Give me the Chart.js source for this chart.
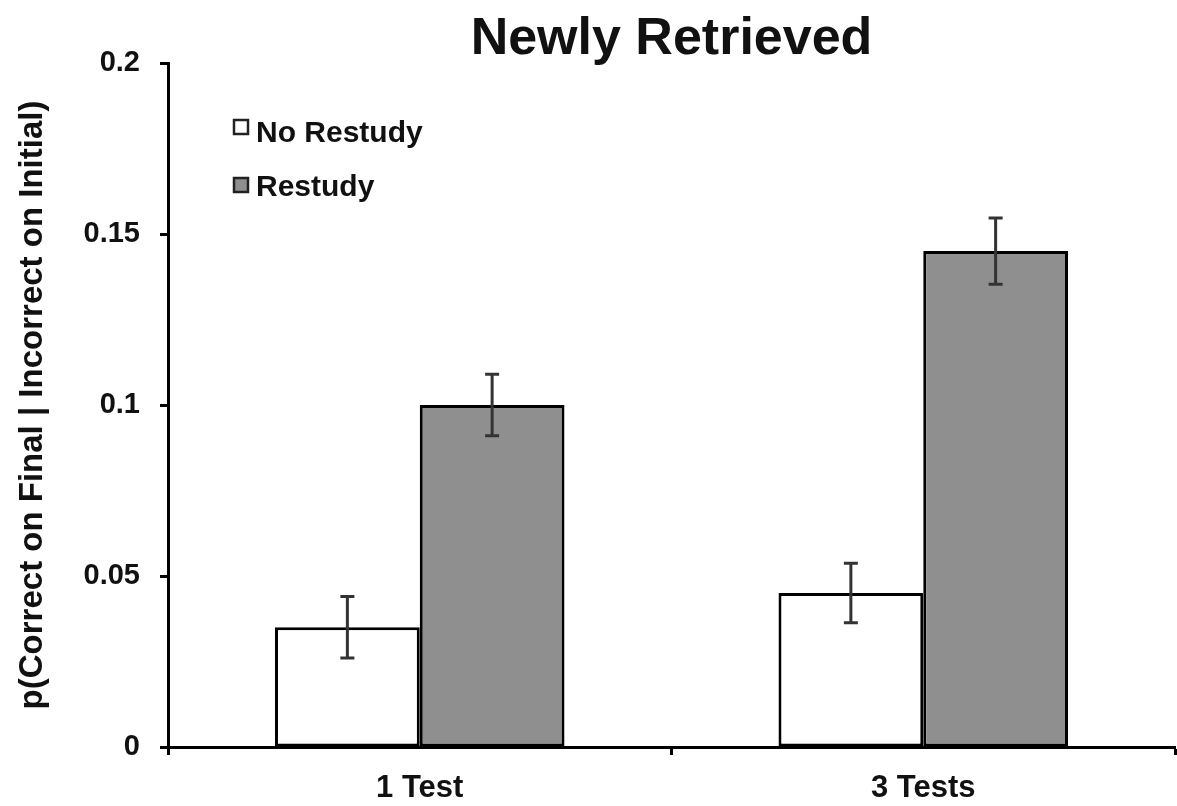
<!DOCTYPE html>
<html>
<head>
<meta charset="utf-8">
<script src="https://cdn.jsdelivr.net/npm/chart.js@4/dist/chart.umd.min.js"></script>
<style>
  html, body { margin: 0; padding: 0; background: #fff; }
  #wrap { width: 1177px; height: 806px; position: relative; }
</style>
</head>
<body>
<div id="wrap"><canvas id="c" width="1177" height="806"></canvas></div>
<script>
const chartTitle = 'Newly Retrieved';
const yAxisTitle = 'p(Correct on Final | Incorrect on Initial)';
const categories = ['1 Test', '3 Tests'];
const seriesLabels = ['No Restudy', 'Restudy'];
const noRestudy = [0.035, 0.045];
const restudy = [0.100, 0.145];
const noRestudyErr = [0.009, 0.0087];
const restudyErr = [0.009, 0.0097];
const yTickValues = [0, 0.05, 0.1, 0.15, 0.2];
const yTickLabels = ['0', '0.05', '0.1', '0.15', '0.2'];

const FONT = '"Liberation Sans", Arial, Helvetica, sans-serif';

const errorBarPlugin = {
  id: 'errorBars',
  afterDatasetsDraw(chart) {
    const ctx = chart.ctx;
    const y = chart.scales.y;
    ctx.save();
    ctx.strokeStyle = '#333';
    ctx.lineWidth = 3;
    chart.data.datasets.forEach((ds, i) => {
      const meta = chart.getDatasetMeta(i);
      meta.data.forEach((bar, j) => {
        const v = ds.data[j], e = ds.errors[j];
        const x = bar.x;
        const yHi = y.getPixelForValue(v + e);
        const yLo = y.getPixelForValue(v - e);
        ctx.beginPath();
        ctx.moveTo(x, yHi); ctx.lineTo(x, yLo);
        ctx.moveTo(x - 7, yHi); ctx.lineTo(x + 7, yHi);
        ctx.moveTo(x - 7, yLo); ctx.lineTo(x + 7, yLo);
        ctx.stroke();
      });
    });
    ctx.restore();
  }
};

const legendPlugin = {
  id: 'insideLegend',
  afterDraw(chart) {
    const ctx = chart.ctx;
    const boxTops = [120, 178];
    const baselines = [142, 196];
    ctx.save();
    chart.data.datasets.forEach((ds, i) => {
      ctx.fillStyle = ds.backgroundColor;
      ctx.fillRect(234, boxTops[i], 14, 14);
      ctx.strokeStyle = '#222';
      ctx.lineWidth = 2.5;
      ctx.strokeRect(234, boxTops[i], 14, 14);
      ctx.fillStyle = '#111';
      ctx.font = 'bold 30px ' + FONT;
      ctx.textAlign = 'left';
      ctx.textBaseline = 'alphabetic';
      ctx.fillText(ds.label, 256, baselines[i]);
    });
    ctx.restore();
  }
};

new Chart(document.getElementById('c'), {
  type: 'bar',
  data: {
    labels: categories,
    datasets: [
      {
        label: seriesLabels[0],
        data: noRestudy,
        errors: noRestudyErr,
        backgroundColor: '#ffffff',
        borderColor: '#000000',
        borderWidth: 3,
        borderSkipped: false,
        categoryPercentage: 0.575,
        barPercentage: 1.0
      },
      {
        label: seriesLabels[1],
        data: restudy,
        errors: restudyErr,
        backgroundColor: '#8f8f8f',
        borderColor: '#000000',
        borderWidth: 3,
        borderSkipped: false,
        categoryPercentage: 0.575,
        barPercentage: 1.0
      }
    ]
  },
  options: {
    responsive: false,
    animation: false,
    layout: { padding: { left: 0, right: 2, top: 0, bottom: 0 } },
    plugins: {
      legend: { display: false },
      tooltip: { enabled: false },
      title: {
        display: true,
        text: chartTitle,
        fullSize: false,
        color: '#111',
        font: { family: FONT, size: 52, weight: 'bold', lineHeight: 1.0 },
        padding: { top: 14, bottom: -3 }
      }
    },
    scales: {
      x: {
        afterFit(s) { s.height = 59; },
        grid: {
          display: true,
          drawOnChartArea: false,
          drawTicks: true,
          tickLength: 8,
          tickWidth: 3,
          tickColor: '#000',
          offset: true
        },
        border: { display: true, color: '#000', width: 3 },
        ticks: {
          color: '#111',
          padding: 15,
          font: { family: FONT, size: 31, weight: 'bold' }
        }
      },
      y: {
        min: 0,
        max: 0.2,
        afterFit(s) { s.width = 168; },
        afterBuildTicks(s) { s.ticks = yTickValues.map(v => ({ value: v })); },
        grid: {
          display: true,
          drawOnChartArea: false,
          drawTicks: true,
          tickLength: 8,
          tickWidth: 3,
          tickColor: '#000'
        },
        border: { display: true, color: '#000', width: 3 },
        ticks: {
          color: '#111',
          padding: 20,
          font: { family: FONT, size: 29, weight: 'bold' },
          callback(value, index) { return yTickLabels[index]; }
        },
        title: {
          display: true,
          text: yAxisTitle,
          color: '#111',
          font: { family: FONT, size: 33, weight: 'bold' },
          padding: { top: 13, bottom: 0 }
        }
      }
    }
  },
  plugins: [errorBarPlugin, legendPlugin]
});
</script>
</body>
</html>
